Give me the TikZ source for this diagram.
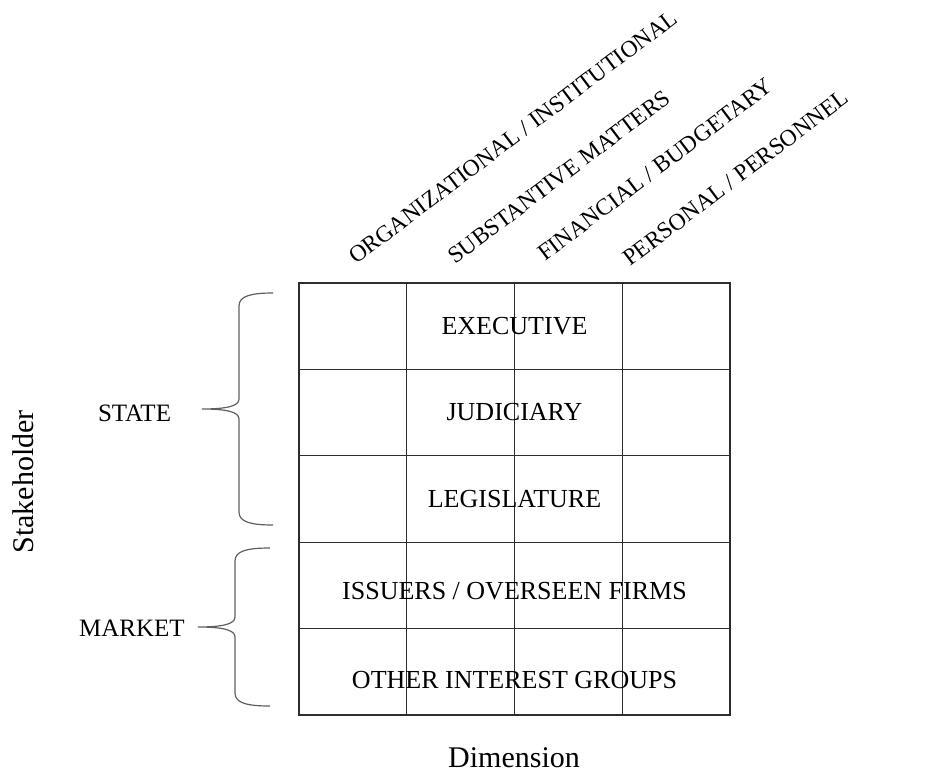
\documentclass[tikz,border=0pt]{standalone}
\usepackage{fontspec}
\setmainfont{Liberation Serif}
\usetikzlibrary{positioning,calc}
\definecolor{rule}{RGB}{45,45,45}
\definecolor{hook}{RGB}{95,95,95}
\tikzset{
  cellrule/.style={draw=rule,line width=1.1pt},
  rowlabel/.style={font=\fontsize{26}{30}\selectfont,inner sep=0pt},
  dimhead/.style={font=\fontsize{23.5}{27}\selectfont,rotate=37,anchor=base west,inner sep=0pt},
  grouplabel/.style={font=\fontsize{25}{29}\selectfont,inner sep=0pt},
  axislabel/.style={font=\fontsize{30}{34}\selectfont,inner sep=0pt},
  bracket/.style={draw=hook,line width=1.2pt},
}
% curly bracket: x of arm ends, x of spine, x of tip, y top, y bottom
\newcommand{\sidebrace}[5]{%
  \pgfmathsetmacro{\bmid}{(#4+#5)/2}%
  \draw[bracket] (#1,#4) .. controls ({#2+12},#4) and (#2,{#4+3}) .. (#2,{#4+13})
    -- (#2,{\bmid-10}) .. controls (#2,{\bmid-3}) and ({#2-12},\bmid) .. (#3,\bmid)
    .. controls ({#2-12},\bmid) and (#2,{\bmid+3}) .. (#2,{\bmid+10})
    -- (#2,{#5-13}) .. controls (#2,{#5-3}) and ({#2+12},#5) .. (#1,#5);
}
\begin{document}
\begin{tikzpicture}[x=1pt,y=-1pt]
\useasboundingbox (0,0) rectangle (937,774);
% the table
\node[cellrule,minimum width=431pt,minimum height=432pt,inner sep=0pt] (tab) at (514.5,499) {};
\foreach \f in {0.25,0.5,0.75}
  \draw[cellrule] ($(tab.north west)!\f!(tab.north east)$) -- ($(tab.south west)!\f!(tab.south east)$);
\foreach \f in {0.2,0.4,0.6,0.8}
  \draw[cellrule] ($(tab.north west)!\f!(tab.south west)$) -- ($(tab.north east)!\f!(tab.south east)$);
% stakeholders
\node[rowlabel] (exec) at ($(tab.north)!0.1!(tab.south)$) {EXECUTIVE};
\node[rowlabel] (jud) at ($(tab.north)!0.3!(tab.south)$) {JUDICIARY};
\node[rowlabel] (leg) at ($(tab.north)!0.5!(tab.south)$) {LEGISLATURE};
\node[rowlabel,yshift=-5pt] (iss) at ($(tab.north)!0.7!(tab.south)$) {ISSUERS / OVERSEEN FIRMS};
\node[rowlabel,yshift=-8pt] (oig) at ($(tab.north)!0.9!(tab.south)$) {OTHER INTEREST GROUPS};
% dimensions
\node[dimhead] (org) at (356,265) {ORGANIZATIONAL / INSTITUTIONAL};
\node[dimhead] (sub) at (455,265) {SUBSTANTIVE MATTERS};
\node[dimhead] (fin) at (545,262) {FINANCIAL / BUDGETARY};
\node[dimhead] (per) at (630,267) {PERSONAL / PERSONNEL};
% groups
\node[grouplabel] (state) at (134.5,413) {STATE};
\node[grouplabel] (market) at (132,628) {MARKET};
\sidebrace{273}{239}{202}{293}{525}
\sidebrace{270}{235}{198}{548}{706}
% axes
\node[axislabel,rotate=90] (stake) at (23,482) {Stakeholder};
\node[axislabel] (dim) at (514,758) {Dimension};
\end{tikzpicture}
\end{document}
